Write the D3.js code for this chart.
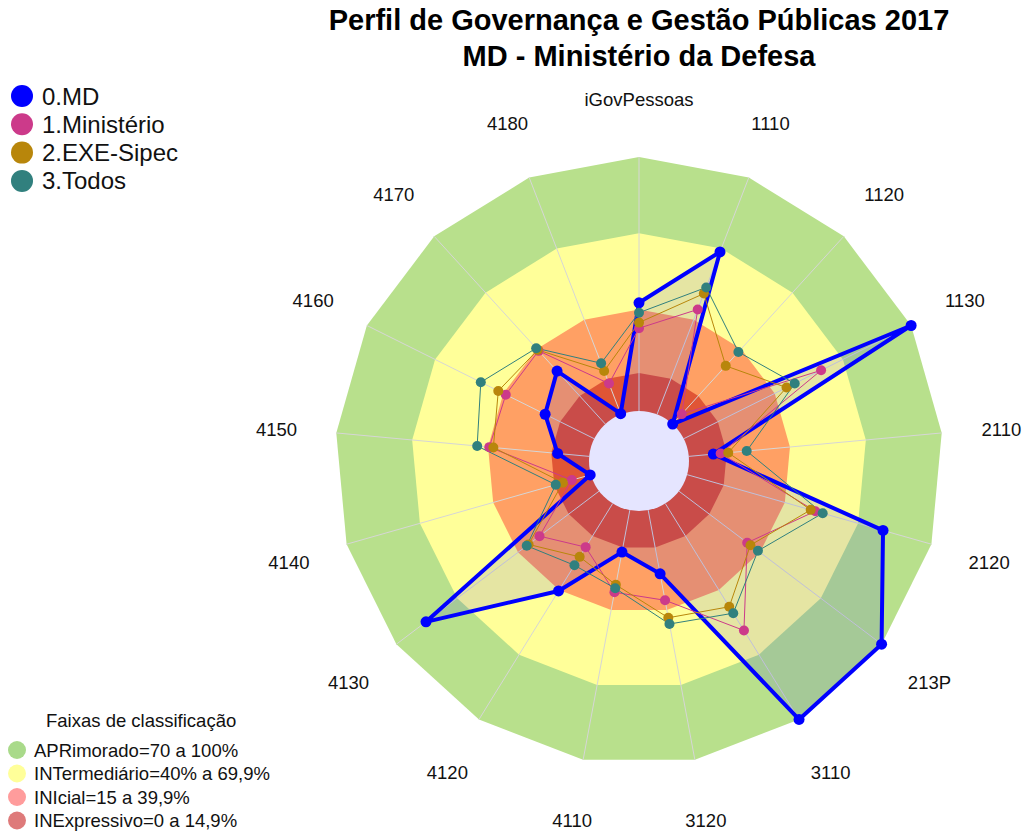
<!DOCTYPE html>
<html>
<head>
<meta charset="utf-8">
<script src="https://cdn.jsdelivr.net/npm/d3@7"></script>
<style>
  html, body { margin: 0; padding: 0; background: #ffffff; }
  svg { display: block; font-family: "Liberation Sans", Arial, sans-serif; }
</style>
</head>
<body>
<svg id="chart" width="1025" height="831"></svg>
<script>
// ---- data ----
const axes = ["iGovPessoas","1110","1120","1130","2110","2120","213P","3110","3120","4110","4120","4130","4140","4150","4160","4170","4180"];
const seriesNames = ["0.MD","1.Ministério","2.EXE-Sipec","3.Todos"];
const md         = [42.6, 68.6, 0.0, 100, 9.7, 80.2, 100, 100, 25.5, 16.8, 40.5, 85.4, 0.3, 12.5, 21.6, 28.2, 0.3];
const ministerio = [32.6, 44.3, 5.3, 60.4, 12.6, 52.5, 33.7, 58.8, 36.1, 32.9, 20.2, 29.4, 7.8, 39.5, 38.9, 39.0, 13.0];
const sipec      = [34.8, 51.0, 31.0, 45.2, 15.6, 50.6, 35.3, 47.8, 43.1, 29.9, 24.7, 34.8, 11.5, 37.9, 42.2, 39.5, 18.3];
const todos      = [38.7, 53.6, 38.4, 48.8, 22.9, 55.5, 39.0, 50.8, 45.6, 31.3, 28.6, 35.7, 14.4, 44.3, 49.9, 40.4, 21.6];
const bandLimits = [100, 70, 40, 15];
const bandNames  = ["APRimorado=70 a 100%","INTermediário=40% a 69,9%","INIcial=15 a 39,9%","INExpressivo=0 a 14,9%"];
const titleLines = ["Perfil de Governança e Gestão Públicas 2017","MD - Ministério da Defesa"];
const legendTitle = "Faixas de classificação";

// ---- styles ----
const seriesColors = ["#0000FF","#CC3A8A","#B8860B","#31807E"];
const seriesWidths = [4, 1, 1, 1];
const bandColors = ["#B8E08C","#FFFF99","#FFA064","#E05535"];
const bandLegendColors = ["#A9DA8A","#FFFF99","#FF9C9C","#DE7A7A"];

const svg = d3.select("#chart");
const cx = 639, cy = 461;
const r = d3.scaleLinear().domain([0, 100]).range([50, 304]);
const n = axes.length;
const ang = d3.scaleLinear().domain([0, n]).range([0, 2 * Math.PI]);
const pt = (v, i) => [cx + r(v) * Math.sin(ang(i)), cy - r(v) * Math.cos(ang(i))];
const poly = vals => vals.map((v, i) => pt(v, i));
const line = d3.line().curve(d3.curveLinearClosed);

const g = svg.append("g");

// bands
bandLimits.forEach((lim, k) => {
  g.append("path")
    .attr("d", line(poly(axes.map(() => lim))))
    .attr("fill", bandColors[k]);
});

// radial grid lines
axes.forEach((a, i) => {
  const p0 = pt(0, i), p1 = pt(100, i);
  g.append("line")
    .attr("x1", p0[0]).attr("y1", p0[1])
    .attr("x2", p1[0]).attr("y2", p1[1])
    .attr("stroke", "#D6D6D6").attr("stroke-width", 1);
});

// center hole
g.append("circle").attr("cx", cx).attr("cy", cy).attr("r", r(0)).attr("fill", "#FFFFFF");

// axis labels
axes.forEach((a, i) => {
  const rr = 364;
  g.append("text")
    .attr("x", cx + rr * Math.sin(ang(i)))
    .attr("y", cy - rr * Math.cos(ang(i)) + 2)
    .attr("text-anchor", "middle")
    .attr("dominant-baseline", "central")
    .attr("font-size", 18.5)
    .attr("fill", "#111")
    .text(a);
});

const allSeries = [md, ministerio, sipec, todos];

// fill of main series
g.append("path")
  .attr("d", line(poly(md)))
  .attr("fill", "#0000FF").attr("fill-opacity", 0.1);

// lines
allSeries.forEach((s, k) => {
  g.append("path")
    .attr("d", line(poly(s)))
    .attr("fill", "none")
    .attr("stroke", seriesColors[k])
    .attr("stroke-width", seriesWidths[k])
    .attr("stroke-linejoin", "round");
});

// points
allSeries.forEach((s, k) => {
  g.selectAll(null).data(s).enter().append("circle")
    .attr("cx", (v, i) => pt(v, i)[0])
    .attr("cy", (v, i) => pt(v, i)[1])
    .attr("r", k === 0 ? 5.5 : 5)
    .attr("fill", seriesColors[k]);
});

// title
titleLines.forEach((t, i) => {
  svg.append("text")
    .attr("x", 639).attr("y", 30 + i * 36)
    .attr("text-anchor", "middle")
    .attr("font-size", 29).attr("font-weight", "bold")
    .attr("fill", "#000")
    .text(t);
});

// series legend
seriesNames.forEach((s, k) => {
  const y = 96 + k * 28.3;
  svg.append("circle").attr("cx", 22).attr("cy", y).attr("r", 11).attr("fill", seriesColors[k]);
  svg.append("text").attr("x", 42).attr("y", y).attr("dominant-baseline", "central")
    .attr("font-size", 24).attr("fill", "#111").text(s);
});

// band legend
svg.append("text").attr("x", 46).attr("y", 720).attr("dominant-baseline", "central")
  .attr("font-size", 18.5).attr("fill", "#111").text(legendTitle);
bandNames.forEach((b, k) => {
  const y = 750 + k * 23.5;
  svg.append("circle").attr("cx", 17).attr("cy", y).attr("r", 9).attr("fill", bandLegendColors[k]);
  svg.append("text").attr("x", 34).attr("y", y).attr("dominant-baseline", "central")
    .attr("font-size", 18.5).attr("fill", "#111").text(b);
});
</script>
</body>
</html>
